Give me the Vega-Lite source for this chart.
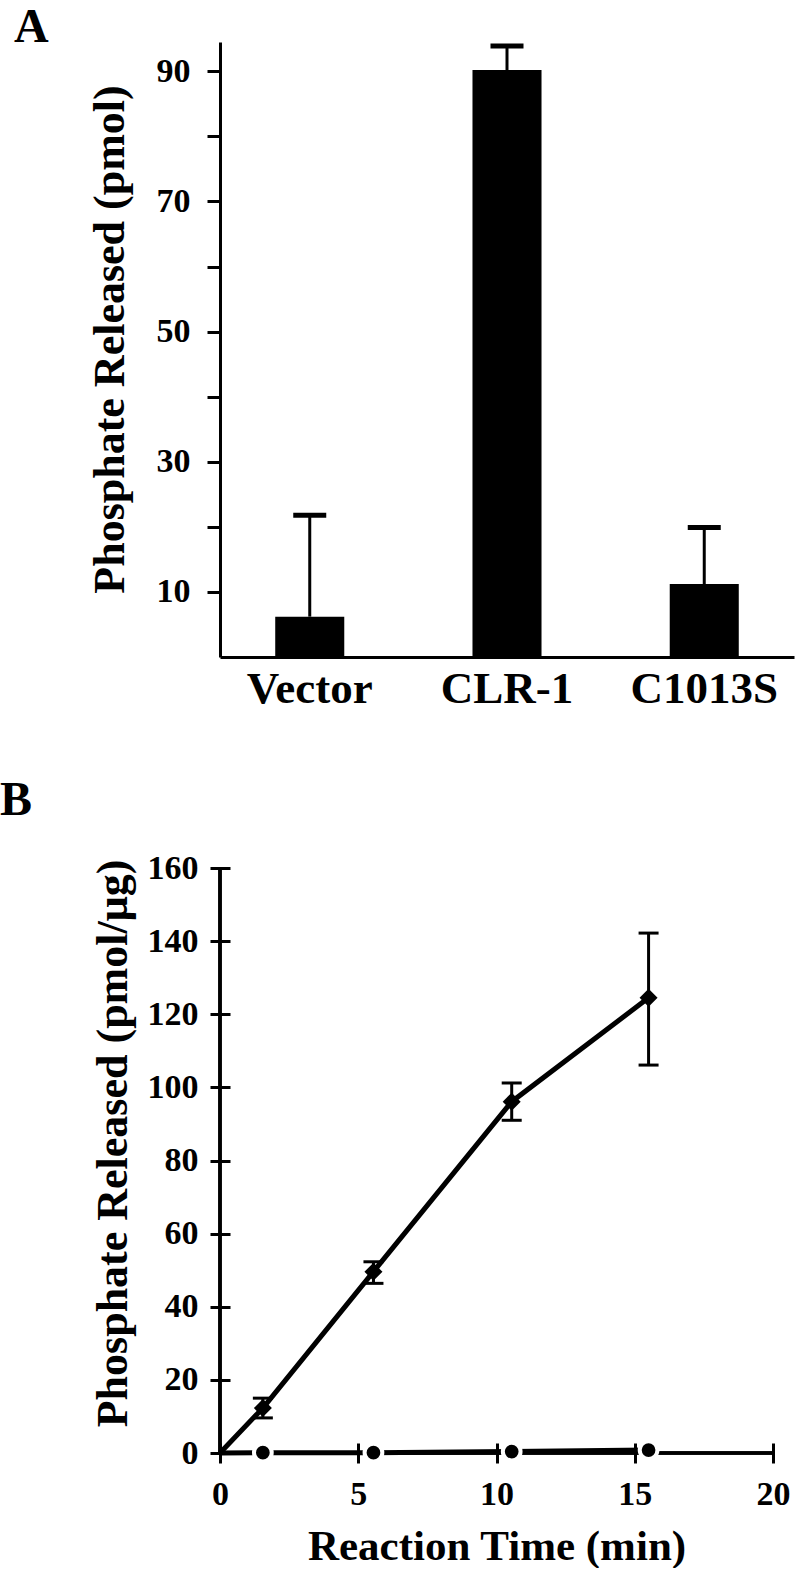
{
  "$schema": "https://vega.github.io/schema/vega-lite/v6.json",
  "background": "white",
  "padding": {"left": 0, "top": 4, "right": 5, "bottom": 0},
  "bounds": "flush",
  "spacing": 211,
  "config": {
    "font": "Liberation Serif",
    "view": {"stroke": null},
    "axis": {
      "labelFont": "Liberation Serif",
      "titleFont": "Liberation Serif",
      "labelFontWeight": "bold",
      "titleFontWeight": "bold",
      "labelColor": "black",
      "titleColor": "black",
      "domainColor": "black",
      "tickColor": "black",
      "grid": false,
      "labelFlush": false,
      "labelOverlap": false
    },
    "title": {
      "font": "Liberation Serif",
      "fontWeight": "bold",
      "fontSize": 48,
      "color": "black",
      "anchor": "start",
      "frame": "group",
      "baseline": "alphabetic"
    }
  },
  "datasets": {
    "bars": [
      {"construct": "Vector", "pmol": 6.2, "upper": 21.8},
      {"construct": "CLR-1", "pmol": 90.2, "upper": 93.9},
      {"construct": "C1013S", "pmol": 11.2, "upper": 19.9}
    ],
    "kinetics": [
      {"series": "CLR-1", "time": 0, "value": 0},
      {"series": "CLR-1", "time": 1.55, "value": 12.3, "lo": 9.6, "hi": 15.0},
      {"series": "CLR-1", "time": 5.55, "value": 49.6, "lo": 46.4, "hi": 52.3},
      {"series": "CLR-1", "time": 10.55, "value": 96.1, "lo": 91.0, "hi": 101.2},
      {"series": "CLR-1", "time": 15.5, "value": 124.5, "lo": 106.1, "hi": 142.2},
      {"series": "C1013S", "time": 0, "value": 0},
      {"series": "C1013S", "time": 1.55, "value": 0.1},
      {"series": "C1013S", "time": 5.55, "value": 0.1},
      {"series": "C1013S", "time": 10.55, "value": 0.4},
      {"series": "C1013S", "time": 15.5, "value": 0.8}
    ]
  },
  "vconcat": [
    {
      "width": 574,
      "height": 615,
      "title": {"text": "A", "dx": -206, "offset": 0, "dy": 10},
      "data": {"name": "bars"},
      "encoding": {
        "x": {
          "field": "construct",
          "type": "nominal",
          "sort": ["Vector", "CLR-1", "C1013S"],
          "scale": {"paddingInner": 0.65, "paddingOuter": 0.28},
          "axis": {
            "title": null,
            "labelAngle": 0,
            "labelFontSize": 45,
            "labelPadding": 9,
            "labelBaseline": "top",
            "ticks": false,
            "tickSize": 0,
            "domainWidth": 3
          }
        }
      },
      "layer": [
        {
          "mark": {"type": "bar", "color": "black"},
          "encoding": {
            "y": {
              "field": "pmol",
              "type": "quantitative",
              "scale": {"domain": [0, 94.5], "nice": false},
              "axis": {
                "title": "Phosphate Released (pmol)",
                "titleFontSize": 44,
                "titlePadding": 24,
                "titleY": 297,
                "values": [10, 20, 30, 40, 50, 60, 70, 80, 90],
                "labelExpr": "datum.value % 20 == 10 ? datum.label : ''",
                "labelFontSize": 34,
                "labelPadding": 17,
                "tickSize": 13,
                "tickWidth": 3,
                "domainWidth": 3
              }
            }
          }
        },
        {
          "mark": {"type": "rule", "color": "black", "strokeWidth": 3},
          "encoding": {
            "y": {"field": "pmol", "type": "quantitative"},
            "y2": {"field": "upper"}
          }
        },
        {
          "mark": {"type": "tick", "color": "black", "opacity": 1, "orient": "horizontal", "size": 33, "thickness": 5},
          "encoding": {
            "y": {"field": "upper", "type": "quantitative"}
          }
        }
      ]
    },
    {
      "width": 553,
      "height": 585,
      "title": {"text": "B", "dx": -220, "offset": 26},
      "data": {"name": "kinetics"},
      "layer": [
        {
          "mark": {"type": "rule", "color": "black", "strokeWidth": 2.5},
          "encoding": {"y": {"datum": 0, "type": "quantitative"}}
        },
        {
          "mark": {"type": "rule", "color": "black", "strokeWidth": 2.5},
          "encoding": {"x": {"datum": 0, "type": "quantitative"}}
        },
        {
          "mark": {"type": "line", "color": "black", "strokeWidth": 5},
          "encoding": {
            "x": {
              "field": "time",
              "type": "quantitative",
              "scale": {"domain": [0, 20], "nice": false},
              "axis": {
                "title": "Reaction Time (min)",
                "titleFontSize": 43,
                "titlePadding": 14,
                "values": [0, 5, 10, 15, 20],
                "labelFontSize": 34,
                "labelPadding": 14,
                "tickSize": 20,
                "tickWidth": 3,
                "offset": -10,
                "domain": false
              }
            },
            "y": {
              "field": "value",
              "type": "quantitative",
              "scale": {"domain": [0, 160], "nice": false},
              "axis": {
                "title": "Phosphate Released (pmol/μg)",
                "titleFontSize": 44,
                "titlePadding": 12,
                "titleY": 275,
                "values": [0, 20, 40, 60, 80, 100, 120, 140, 160],
                "labelFontSize": 34,
                "labelPadding": 12,
                "tickSize": 20,
                "tickWidth": 3,
                "offset": -10,
                "domain": false
              }
            },
            "detail": {"field": "series"}
          }
        },
        {
          "transform": [{"filter": "isValid(datum.hi)"}],
          "mark": {"type": "rule", "color": "black", "strokeWidth": 3},
          "encoding": {
            "x": {"field": "time", "type": "quantitative"},
            "y": {"field": "lo", "type": "quantitative"},
            "y2": {"field": "hi"}
          }
        },
        {
          "transform": [{"filter": "isValid(datum.hi)"}],
          "mark": {"type": "tick", "color": "black", "opacity": 1, "orient": "horizontal", "size": 20, "thickness": 3},
          "encoding": {
            "x": {"field": "time", "type": "quantitative"},
            "y": {"field": "hi", "type": "quantitative"}
          }
        },
        {
          "transform": [{"filter": "isValid(datum.lo)"}],
          "mark": {"type": "tick", "color": "black", "opacity": 1, "orient": "horizontal", "size": 20, "thickness": 3},
          "encoding": {
            "x": {"field": "time", "type": "quantitative"},
            "y": {"field": "lo", "type": "quantitative"}
          }
        },
        {
          "transform": [{"filter": "datum.series == 'CLR-1' && datum.time > 0"}],
          "mark": {"type": "point", "shape": "diamond", "filled": true, "size": 324, "color": "black", "opacity": 1},
          "encoding": {
            "x": {"field": "time", "type": "quantitative"},
            "y": {"field": "value", "type": "quantitative"}
          }
        },
        {
          "transform": [{"filter": "datum.series == 'C1013S' && datum.time > 0"}],
          "mark": {"type": "point", "shape": "circle", "filled": true, "size": 314, "fill": "black", "stroke": "white", "strokeWidth": 4, "opacity": 1, "fillOpacity": 1, "strokeOpacity": 1},
          "encoding": {
            "x": {"field": "time", "type": "quantitative"},
            "y": {"field": "value", "type": "quantitative"}
          }
        }
      ]
    }
  ]
}
